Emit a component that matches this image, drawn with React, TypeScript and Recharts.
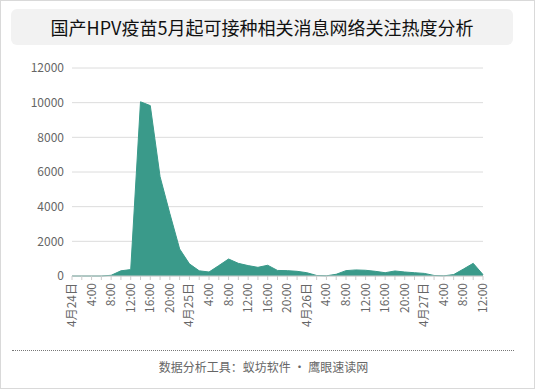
import React from "react"
import { AreaChart, Area, XAxis, YAxis, CartesianGrid } from "recharts"

// 每2小时一个点，4月24日 0:00 到 4月27日 12:00
const days = ["4月24日", "4月25日", "4月26日", "4月27日"]
const hours = ["0:00", "2:00", "4:00", "6:00", "8:00", "10:00", "12:00", "14:00", "16:00", "18:00", "20:00", "22:00"]

const heat = [
  0, 0, 0, 0, 40, 300, 370, 10050, 9830, 5730, 3600, 1560,
  700, 300, 230, 600, 980, 730, 600, 500, 620, 320, 310, 270,
  190, 30, 10, 100, 310, 350, 330, 270, 190, 290, 230, 190,
  150, 30, 10, 80, 400, 730, 80,
]

const yTicks = [0, 2000, 4000, 6000, 8000, 10000, 12000]

const labels = heat.map((_, i) => {
  const d = Math.floor(i / 12)
  const h = i % 12
  return h === 0 ? days[d] : hours[h]
})

const data = heat.map((v, i) => ({ t: labels[i], v }))

const FONT = '"Noto Sans CJK SC", "Noto Sans", sans-serif'

const TimeTick = (props: any) => {
  const { x, payload, index } = props
  if (index % 2 !== 0) return null
  return (
    <g transform={`translate(${x},276)`}>
      <text
        x={-7}
        y={0}
        dy={4}
        transform="rotate(-90)"
        textAnchor="end"
        fill="#666"
        fontSize={12}
        fontFamily={FONT}
      >
        {payload.value}
      </text>
    </g>
  )
}

const App = () => {
  return (
    <div
      style={{
        position: "absolute",
        left: 0,
        top: 0,
        width: 535,
        height: 389,
        boxSizing: "border-box",
        border: "1px solid #d9d9d9",
        background: "#fff",
        fontFamily: FONT,
      }}
    >
      <div
        style={{
          position: "absolute",
          left: 10,
          top: 8,
          width: 502,
          height: 36,
          background: "#f2f2f2",
          borderRadius: 6,
          textAlign: "center",
          lineHeight: "36px",
          fontSize: 18,
          color: "#111",
        }}
      >
        国产HPV疫苗5月起可接种相关消息网络关注热度分析
      </div>
      <div style={{ position: "absolute", left: -1, top: -1 }}>
        <AreaChart
          width={535}
          height={340}
          data={data}
          margin={{ top: 68, right: 52, left: 0, bottom: 9 }}
        >
          <CartesianGrid vertical={false} stroke="#dcdcdc" />
          <XAxis
            dataKey="t"
            interval={0}
            height={55}
            tickSize={4}
            tick={<TimeTick />}
            axisLine={{ stroke: "#ccc" }}
            tickLine={{ stroke: "#ccc" }}
          />
          <YAxis
            width={72}
            domain={[0, 12000]}
            ticks={yTicks}
            axisLine={false}
            tickLine={false}
            tick={{ fill: "#666", fontSize: 12, fontFamily: FONT }}
          />
          <Area
            type="linear"
            dataKey="v"
            stroke="#3a9a8a"
            strokeWidth={1}
            fill="#3a9a8a"
            fillOpacity={1}
            isAnimationActive={false}
          />
        </AreaChart>
      </div>
      <div
        style={{
          position: "absolute",
          left: 11,
          top: 349,
          width: 502,
          borderTop: "1px dotted #777",
        }}
      />
      <div
        style={{
          position: "absolute",
          left: 0,
          top: 357,
          width: 525,
          textAlign: "center",
          fontSize: 12,
          color: "#666",
          lineHeight: "18px",
        }}
      >
        数据分析工具：蚁坊软件 · 鹰眼速读网
      </div>
    </div>
  )
}

export default App
